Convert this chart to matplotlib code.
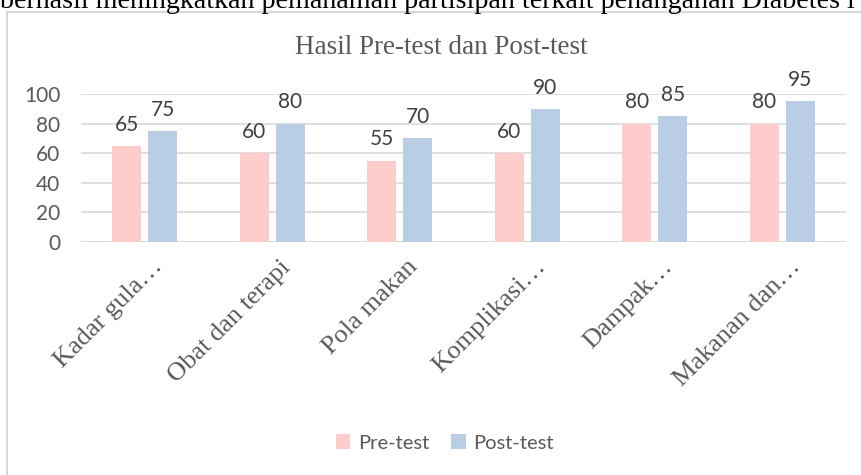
import matplotlib.pyplot as plt
import numpy as np
from matplotlib.lines import Line2D
from matplotlib.transforms import ScaledTranslation

categories = ['Kadar gula…', 'Obat dan terapi', 'Pola makan',
              'Komplikasi…', 'Dampak…', 'Makanan dan…']
pre_test = [65, 60, 55, 60, 80, 80]
post_test = [75, 80, 70, 90, 85, 95]
y_ticks = [0, 20, 40, 60, 80, 100]

pink = '#FFCCCC'
blue = '#B9CDE5'
grey_text = '#595959'
grid_grey = '#D9D9D9'

fig = plt.figure(figsize=(8.61, 4.75), dpi=100)
ax = fig.add_axes([81 / 861, 233 / 475, 765 / 861, 148 / 475])

x = np.arange(len(categories))
w = 0.227
off = 0.141
bars_pre = ax.bar(x - off, pre_test, w, color=pink, label='Pre-test', zorder=2)
bars_post = ax.bar(x + off, post_test, w, color=blue, label='Post-test', zorder=2)

for bars in (bars_pre, bars_post):
    ax.bar_label(bars, padding=8, fontsize=15, color='#404040', family='Lato')

ax.set_xlim(-0.5, len(categories) - 0.5)
ax.set_ylim(0, 100)
ax.set_yticks(y_ticks)
ax.yaxis.grid(True, color=grid_grey, lw=1.2, zorder=0)
ax.set_axisbelow(True)
for s in ax.spines.values():
    s.set_visible(False)
ax.axhline(0, color=grid_grey, lw=1.2, zorder=1)
ax.tick_params(length=0)
ax.tick_params(axis='y', labelsize=15, labelcolor=grey_text, pad=15)
for lab in ax.get_yticklabels():
    lab.set_family('Lato')
ax.set_xticks(x)
ax.set_xticklabels(categories, rotation=45, ha='right', va='top', rotation_mode='anchor',
                   family='Liberation Serif', fontsize=19, color=grey_text)
ax.tick_params(axis='x', pad=10)
shift = ScaledTranslation(5 / 72, 0, fig.dpi_scale_trans)
for lab in ax.get_xticklabels():
    lab.set_transform(lab.get_transform() + shift)

fig.text(441 / 861, 1 - 47 / 475, 'Hasil Pre-test dan Post-test', ha='center', va='center',
         family='Liberation Serif', fontsize=19.5, color=grey_text)

fig.legend(handles=[bars_pre, bars_post], loc='center', bbox_to_anchor=(445 / 861, 1 - 443 / 475),
           ncol=2, frameon=False, prop={'family': 'Lato', 'size': 14.5},
           labelcolor=grey_text, handlelength=0.7, handleheight=0.7, columnspacing=1.1,
           handletextpad=0.4)

# chart frame (cut off on right and bottom)
fig.add_artist(Line2D([7 / 861, 7 / 861], [0, 1 - 12 / 475], color=grid_grey, lw=1.5))
fig.add_artist(Line2D([7 / 861, 1], [1 - 12 / 475, 1 - 12 / 475], color=grid_grey, lw=1.5))

# cut-off line of surrounding document text
fig.text(0 / 861, 1 - 7.5 / 475,
         'berhasil meningkatkan pemahaman partisipan terkait penanganan Diabetes l',
         ha='left', va='baseline', family='Liberation Serif', fontsize=20.2, color='black')

fig.savefig('out.png', dpi=100)
